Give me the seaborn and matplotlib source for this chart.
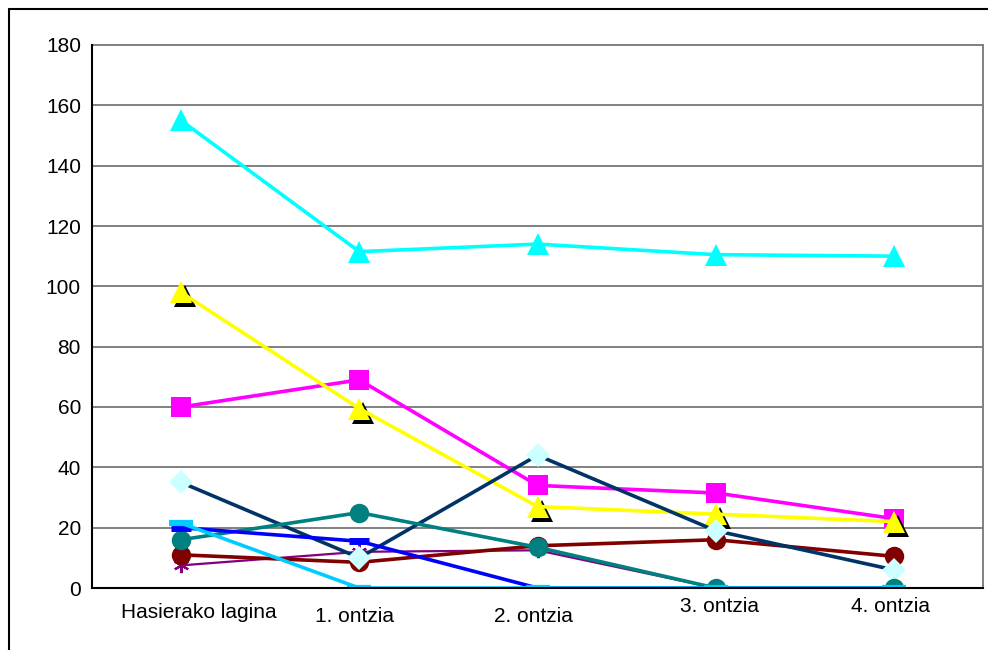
import numpy as np
import pandas as pd
import matplotlib
matplotlib.use("Agg")
import matplotlib.pyplot as plt
import matplotlib.transforms as mtrans
from matplotlib.lines import Line2D
import seaborn as sns

# ---------------- data ----------------
categories = ["Hasierako lagina", "1. ontzia", "2. ontzia", "3. ontzia", "4. ontzia"]
cyan_triangle = [155, 111.5, 114, 110.5, 110]
yellow_triangle = [98, 59.5, 27, 24.5, 22]
magenta_square = [60, 69, 34, 31.5, 23]
navy_diamond = [35, 10, 44, 19, 6]
teal_circle = [16, 25, 13.5, 0, 0]
darkred_circle = [11, 8.5, 14, 16, 10.5]
purple_star = [7.5, 12, 12.5, 0, 0]
blue_dash = [20, 15.5, 0, 0, 0]
lightblue_dash = [21.5, 0, 0, 0, 0]
y_ticks = [0, 20, 40, 60, 80, 100, 120, 140, 160, 180]

sns.set_style("white")
plt.rcParams['font.family'] = ['Liberation Sans', 'DejaVu Sans']
plt.rcParams['text.color'] = 'black'
plt.rcParams['xtick.color'] = 'black'
plt.rcParams['ytick.color'] = 'black'

fig = plt.figure(figsize=(9.88, 6.5), dpi=100)
W, H = 988, 650
ax = fig.add_axes([92 / W, 1 - 588 / H, (983 - 92) / W, (588 - 45) / H])

x = np.arange(len(categories))

def draw(vals, color, marker, ms, mfc=None, mec=None, mew=0.0, lw=2.6, z=3, transform=None):
    kw = dict(x=x, y=vals, ax=ax, color=color, linewidth=lw, marker=marker,
              markersize=ms, markerfacecolor=mfc if mfc else color,
              markeredgecolor=mec if mec else (mfc if mfc else color),
              markeredgewidth=mew, zorder=z, legend=False, sort=False)
    if transform is not None:
        kw["transform"] = transform
    sns.lineplot(**kw)

# series drawn in stacking order
draw(magenta_square, "#FF00FF", "s", 14, z=3)
shadow = mtrans.offset_copy(ax.transData, fig=fig, x=4, y=-4, units='dots')
draw(yellow_triangle, "#000000", "^", 16.5, lw=0, z=3.1, transform=shadow)
draw(yellow_triangle, "#FFFF00", "^", 16.5, z=3.2)
draw(cyan_triangle, "#00FFFF", "^", 16.5, z=3.3)
draw(purple_star, "#800080", (6, 2, 0), 11, mew=1.6, lw=1.6, z=3.4)
draw(darkred_circle, "#800000", "o", 14, z=3.5)
draw(navy_diamond, "#003366", "D", 12, mfc="#CCFFFF", z=3.6)
draw(teal_circle, "#008080", "o", 14, z=3.7)
draw(blue_dash, "#0000FF", "_", 14, mew=5, z=3.8)
draw(lightblue_dash, "#00CCFF", "_", 17, mew=4.5, z=3.9)

# axes styling
ax.set_xlim(-0.5, len(categories) - 0.5)
ax.set_ylim(0, 180)
ax.set_yticks(y_ticks)
ax.set_yticklabels([str(v) for v in y_ticks], fontsize=15)
ax.set_xticks(np.arange(-0.5, len(categories), 1.0))
ax.set_xticklabels([])
ax.tick_params(axis='both', direction='out', length=5, width=1.3, color='black')
ax.tick_params(axis='y', pad=3)
ax.set_xlabel("")
ax.set_ylabel("")
ax.yaxis.grid(True, color='#808080', linewidth=1.4)
ax.xaxis.grid(False)
ax.set_axisbelow(True)
for s in ['left', 'bottom']:
    ax.spines[s].set_color('black')
    ax.spines[s].set_linewidth(1.5)
    ax.spines[s].set_zorder(5)
ax.spines['right'].set_color('#808080')
ax.spines['right'].set_linewidth(1.4)
ax.spines['top'].set_color('#808080')
ax.spines['top'].set_linewidth(1.4)

# staggered category labels (Excel style)
label_dx = [18, -5, -4, 4, -3]          # pixels
label_y = [613, 616, 617, 606, 606]      # pixel centres
for i, lab in enumerate(categories):
    tr = mtrans.offset_copy(mtrans.blended_transform_factory(ax.transData, fig.transFigure),
                            fig=fig, x=label_dx[i], y=0, units='dots')
    ax.text(i, 1 - label_y[i] / H, lab, transform=tr, ha='center', va='center',
            fontsize=15, color='black', clip_on=False)

# chart border (top and left)
fig.add_artist(Line2D([9 / W, 1.0], [1 - 9 / H, 1 - 9 / H], transform=fig.transFigure,
                      color='black', linewidth=1.5))
fig.add_artist(Line2D([9 / W, 9 / W], [0.0, 1 - 9 / H], transform=fig.transFigure,
                      color='black', linewidth=1.5))

fig.savefig("out.png", dpi=100)
